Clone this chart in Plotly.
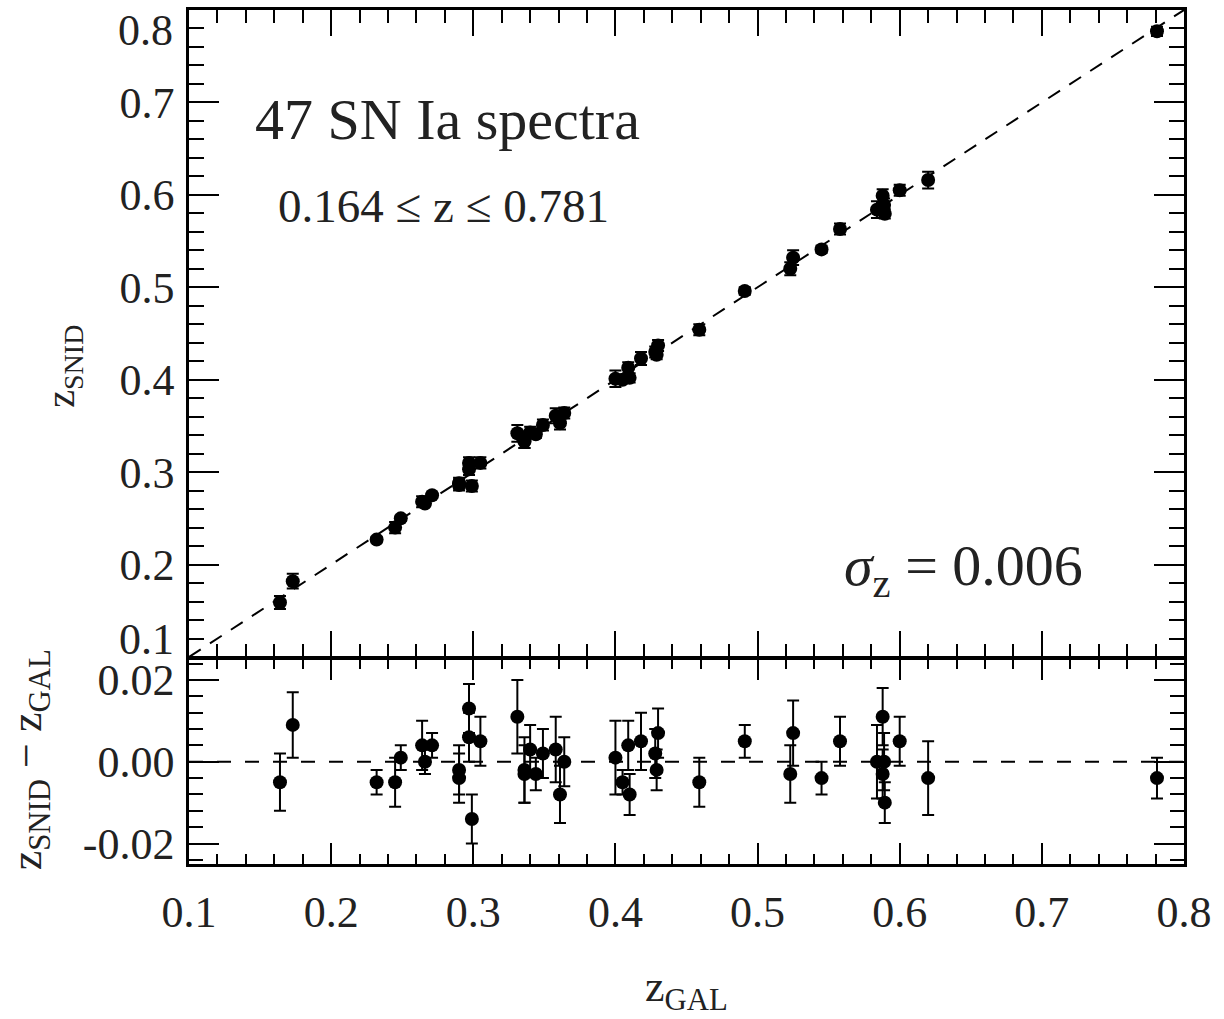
import plotly.graph_objects as go

# ---- data ----
z_gal = [0.164, 0.173, 0.232, 0.245, 0.249, 0.264, 0.266, 0.271, 0.290, 0.290,
         0.297, 0.297, 0.299, 0.305, 0.331, 0.336, 0.336, 0.340, 0.344, 0.349,
         0.358, 0.361, 0.364, 0.400, 0.405, 0.409, 0.410, 0.418, 0.428, 0.430,
         0.429, 0.459, 0.491, 0.523, 0.525, 0.545, 0.558, 0.584, 0.588, 0.589,
         0.588, 0.5895, 0.600, 0.620, 0.781]
dz = [-0.005, 0.009, -0.005, -0.005, 0.001, 0.004, 0.000, 0.004, -0.002, -0.004,
      0.013, 0.006, -0.014, 0.005, 0.011, -0.002, -0.003, 0.003, -0.003, 0.002,
      0.003, -0.008, 0.000, 0.001, -0.005, 0.004, -0.008, 0.005, 0.002, 0.007,
      -0.002, -0.005, 0.005, -0.003, 0.007, -0.004, 0.005, 0.000, 0.011, 0.000,
      -0.003, -0.010, 0.005, -0.004, -0.004]
dz_err = [0.007, 0.008, 0.003, 0.006, 0.003, 0.006, 0.003, 0.003, 0.006, 0.006,
          0.006, 0.006, 0.006, 0.006, 0.009, 0.008, 0.007, 0.006, 0.004, 0.006,
          0.008, 0.007, 0.006, 0.009, 0.003, 0.006, 0.005, 0.007, 0.006, 0.006,
          0.005, 0.006, 0.004, 0.007, 0.008, 0.004, 0.006, 0.009, 0.007, 0.007,
          0.006, 0.005, 0.006, 0.009, 0.005]
z_snid = [g + d for g, d in zip(z_gal, dz)]

x_ticks = [0.1, 0.2, 0.3, 0.4, 0.5, 0.6, 0.7, 0.8]
x_ticktext = ["0.1", "0.2", "0.3", "0.4", "0.5", "0.6", "0.7", "0.8"]
y_ticks = [0.1, 0.2, 0.3, 0.4, 0.5, 0.6, 0.7, 0.8]
y_ticktext = [" ", "0.2", "0.3", "0.4", "0.5", "0.6", "0.7", " "]
r_ticks = [-0.02, 0.0, 0.02]
r_ticktext = ["-0.02", "0.00", "0.02"]
line_x = [0.1, 0.8]

FONT = "Liberation Serif"
TXT = "#222222"

fig = go.Figure()

# top panel
fig.add_trace(go.Scatter(x=line_x, y=line_x, mode="lines",
                         line=dict(color="black", width=2, dash="14px,11px"),
                         xaxis="x", yaxis="y", showlegend=False, hoverinfo="skip"))
fig.add_trace(go.Scatter(x=z_gal, y=z_snid, mode="markers",
                         marker=dict(color="black", size=14),
                         error_y=dict(type="data", array=dz_err, color="black", thickness=2, width=6),
                         xaxis="x", yaxis="y", showlegend=False))
# bottom panel
fig.add_trace(go.Scatter(x=line_x, y=[0, 0], mode="lines",
                         line=dict(color="black", width=2, dash="14px,14px"),
                         xaxis="x2", yaxis="y2", showlegend=False, hoverinfo="skip"))
fig.add_trace(go.Scatter(x=z_gal, y=dz, mode="markers",
                         marker=dict(color="black", size=14),
                         error_y=dict(type="data", array=dz_err, color="black", thickness=2, width=6),
                         xaxis="x2", yaxis="y2", showlegend=False))

TOP_BOTTOM = 0.2424   # bottom edge of the upper panel
LOW_TOP = 0.2395      # top edge of the lower panel (frame line fills the gap)
axis_common = dict(showgrid=False, zeroline=False, showline=True, linecolor="black",
                   linewidth=2.5, mirror="ticks", ticks="inside", tickwidth=2,
                   tickcolor="black", tickfont=dict(family=FONT, size=44, color=TXT))

fig.update_layout(
    width=1224, height=1019,
    margin=dict(l=189, r=40, t=7, b=155),
    plot_bgcolor="white", paper_bgcolor="white",
    xaxis=dict(domain=[0, 1], range=[0.1, 0.8], anchor="y", tickmode="array",
               tickvals=x_ticks, showticklabels=False, ticklen=26,
               minor=dict(tick0=0.1, dtick=0.02, ticks="inside", ticklen=13,
                          tickwidth=2, tickcolor="black"),
               **axis_common),
    yaxis=dict(domain=[TOP_BOTTOM, 1], range=[0.1, 0.8], anchor="x", tickmode="array",
               tickvals=y_ticks, ticktext=y_ticktext, ticklen=30, ticklabelstandoff=3,
               minor=dict(tick0=0.1, dtick=0.02, ticks="inside", ticklen=15,
                          tickwidth=2, tickcolor="black"),
               **axis_common),
    xaxis2=dict(domain=[0, 1], range=[0.1, 0.8], anchor="y2", matches="x",
                tickmode="array", tickvals=x_ticks, ticktext=x_ticktext, ticklen=21,
                ticklabelstandoff=7,
                minor=dict(tick0=0.1, dtick=0.02, ticks="inside", ticklen=10,
                           tickwidth=2, tickcolor="black"),
                **axis_common),
    yaxis2=dict(domain=[0, LOW_TOP], range=[-0.025, 0.025], anchor="x2",
                tickmode="array", tickvals=r_ticks, ticktext=r_ticktext, ticklen=30,
                ticklabelstandoff=3,
                minor=dict(tick0=0, dtick=0.004, ticks="inside", ticklen=14,
                           tickwidth=2, tickcolor="black"),
                **axis_common),
)

ann = []
# shifted end labels of the top y axis
ann.append(dict(text="0.8", xref="paper", x=0, xanchor="right", xshift=-14,
                yref="y", y=0.8, yanchor="middle", yshift=-20,
                showarrow=False, font=dict(family=FONT, size=44, color=TXT)))
ann.append(dict(text="0.1", xref="paper", x=0, xanchor="right", xshift=-14,
                yref="y", y=0.1, yanchor="middle", yshift=17, borderpad=0,
                showarrow=False, font=dict(family=FONT, size=44, color=TXT)))
# in-plot labels
ann.append(dict(text="47 SN Ia spectra", xref="x", x=0.1452, xanchor="left",
                yref="y", y=0.681, yanchor="middle", showarrow=False,
                font=dict(family=FONT, size=58, color=TXT)))
ann.append(dict(text="0.164 ≤ z ≤ 0.781", xref="x", x=0.1613, xanchor="left",
                yref="y", y=0.588, yanchor="middle", showarrow=False,
                font=dict(family=FONT, size=47, color=TXT)))
ann.append(dict(text="<i>σ</i><sub>z</sub> = 0.006", xref="x", x=0.7306, xanchor="right",
                yref="y", y=0.1945, yanchor="middle", showarrow=False,
                font=dict(family=FONT, size=58, color=TXT)))
# axis titles
ann.append(dict(text="z<sub>SNID</sub>", xref="paper", x=0, xshift=-126,
                xanchor="center", yref="paper", y=0.5823, yanchor="middle",
                textangle=-90, showarrow=False,
                font=dict(family=FONT, size=40, color=TXT)))
ann.append(dict(text="z<sub>SNID</sub> − z<sub>GAL</sub>", xref="paper", x=0,
                xshift=-160, xanchor="center", yref="paper", y=0.1214,
                yanchor="middle", textangle=-90, showarrow=False,
                font=dict(family=FONT, size=44, color=TXT)))
ann.append(dict(text="z<sub>GAL</sub>", xref="paper", x=0.5, xanchor="center",
                yref="paper", y=-0.147, yanchor="middle", showarrow=False,
                font=dict(family=FONT, size=44, color=TXT)))
fig.update_layout(annotations=ann)

fig.write_html("out.html")
